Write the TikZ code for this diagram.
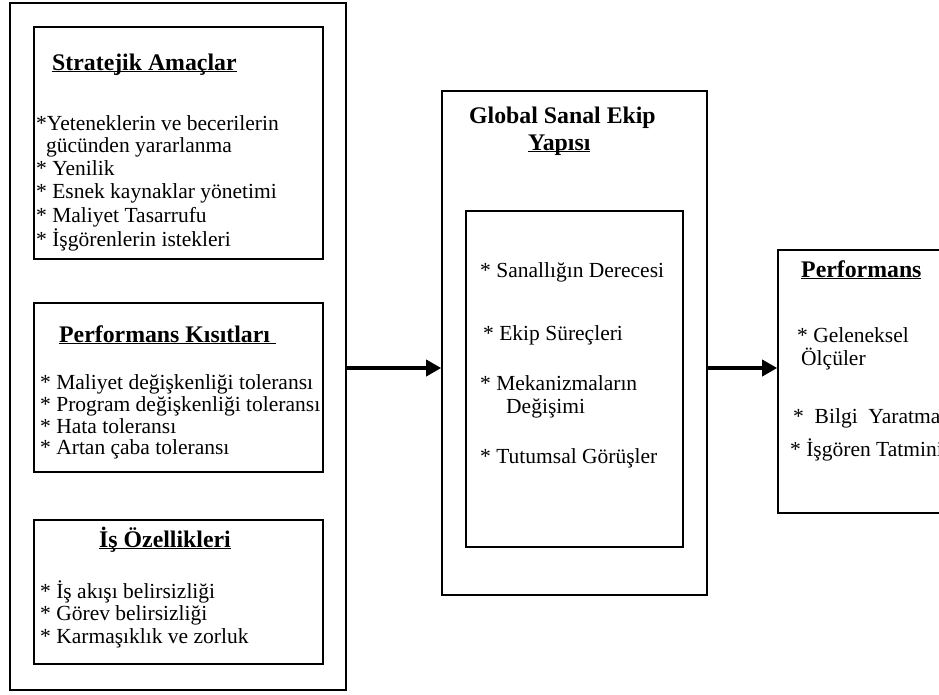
\documentclass[tikz,border=0pt]{standalone}
\usepackage{fontspec}
\setmainfont{Liberation Serif}
\usetikzlibrary{arrows.meta,positioning}
\newcommand{\bodyfont}{\fontsize{21.5}{23.2}\selectfont}
\newcommand{\headfont}{\fontsize{23.8}{26}\selectfont\bfseries}
\newcommand{\ulin}[1]{\underline{\smash{#1}}}

\tikzset{
  box/.style={draw, line width=1.6pt, inner sep=0pt},
  txt/.style={anchor=base west, inner sep=0pt, font=\bodyfont},
  head/.style={anchor=base west, inner sep=0pt, font=\headfont},
  arr/.style={line width=3.5pt, -{Triangle[length=15pt,width=16pt]}}
}

\begin{document}
\begin{tikzpicture}[x=1pt,y=-1pt]
  \useasboundingbox (0,0) rectangle (939,694);

  % left column
  \node[box, minimum width=336pt, minimum height=687pt] (left) at (178,346.5) {};
  \node[box, minimum width=289pt, minimum height=232pt] (strat) at (178.5,143) {};
  \node[box, minimum width=289pt, minimum height=169pt] (kisit) at (178.5,387.5) {};
  \node[box, minimum width=289pt, minimum height=144pt] (ozel) at (178.5,592) {};

  % Stratejik Amaclar
  \node[head] (sh) at (52,70) {\ulin{Stratejik Amaçlar}};
  \node[txt] (s1) at (36,130) {*Yeteneklerin ve becerilerin};
  \node[txt] (s2) at (46,152) {gücünden yararlanma};
  \node[txt] (s3) at (36,175) {* Yenilik};
  \node[txt] (s4) at (36,198) {* Esnek kaynaklar yönetimi};
  \node[txt] (s5) at (36,222) {* Maliyet Tasarrufu};
  \node[txt] (s6) at (36,246) {* İşgörenlerin istekleri};

  % Performans Kisitlari
  \node[head] (kh) at (59,342) {\ulin{Performans Kısıtları\ }};
  \node[txt] (k1) at (40,389) {* Maliyet değişkenliği toleransı};
  \node[txt] (k2) at (40,411) {* Program değişkenliği toleransı};
  \node[txt] (k3) at (40,433) {* Hata toleransı};
  \node[txt] (k4) at (40,454) {* Artan çaba toleransı};

  % Is Ozellikleri
  \node[head] (oh) at (99,547) {\ulin{İş Özellikleri}};
  \node[txt] (o1) at (40,598) {* İş akışı belirsizliği};
  \node[txt] (o2) at (40,620) {* Görev belirsizliği};
  \node[txt] (o3) at (40,643) {* Karmaşıklık ve zorluk};

  % middle column
  \node[box, minimum width=265pt, minimum height=504pt] (mid) at (574.5,343) {};
  \node[box, minimum width=217pt, minimum height=336pt] (midin) at (574.5,379) {};
  \node[head] (gh1) at (469,123) {Global Sanal Ekip};
  \node[head] (gh2) at (528,150) {\ulin{Yapısı}};
  \node[txt] (g1) at (480,277) {* Sanallığın Derecesi};
  \node[txt] (g2) at (483,340) {* Ekip Süreçleri};
  \node[txt] (g3) at (480,390) {* Mekanizmaların};
  \node[txt] (g4) at (506,413) {Değişimi};
  \node[txt] (g5) at (480,463) {* Tutumsal Görüşler};

  % right column (runs off the page)
  \node[box, minimum width=200pt, minimum height=263pt] (perf) at (878,381.5) {};
  \node[head] (ph) at (801,277) {\ulin{Performans}};
  \node[txt] (p1) at (797,342) {* Geleneksel};
  \node[txt] (p2) at (801,365) {Ölçüler};
  \node[txt] (p3) at (793,423) {*\ \ Bilgi\ \ Yaratma};
  \node[txt] (p4) at (790,456) {* İşgören Tatmini};

  % arrows
  \coordinate (arry) at (0,368);
  \draw[arr] (left.east |- arry) -- (mid.west |- arry);
  \draw[arr] (mid.east |- arry) -- (perf.west |- arry);
\end{tikzpicture}
\end{document}
